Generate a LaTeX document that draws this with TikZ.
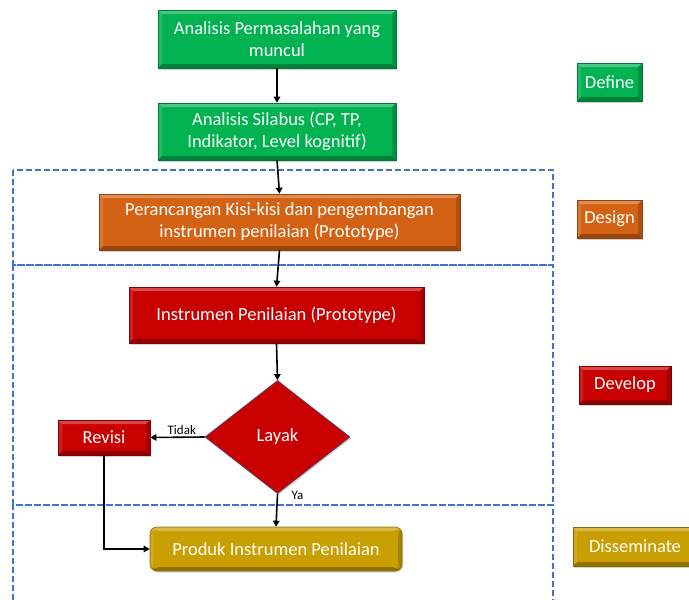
\documentclass[tikz,border=0pt]{standalone}
\usepackage{fontspec}
\setmainfont{Carlito}
\usetikzlibrary{arrows.meta,shapes.geometric,shadows,calc}
\definecolor{cgreen}{RGB}{0,178,80}
\definecolor{cgreenD}{RGB}{0,120,55}
\definecolor{corange}{RGB}{212,98,20}
\definecolor{corangeD}{RGB}{150,65,10}
\definecolor{cred}{RGB}{200,0,0}
\definecolor{credD}{RGB}{130,0,0}
\definecolor{cgold}{RGB}{201,158,0}
\definecolor{cgoldD}{RGB}{140,105,0}
\definecolor{cblue}{RGB}{68,114,196}
\tikzset{
  bevel/.style={path picture={
    \coordinate (nw) at (path picture bounding box.north west);
    \coordinate (se) at (path picture bounding box.south east);
    \coordinate (ne) at (path picture bounding box.north east);
    \coordinate (sw) at (path picture bounding box.south west);
    \fill[white,opacity=0.28] (nw) -- (ne) -- ($(ne)+(-4,4)$) -- ($(nw)+(4,4)$) -- cycle;
    \fill[white,opacity=0.12] (nw) -- ($(nw)+(4,4)$) -- ($(sw)+(4,-4)$) -- (sw) -- cycle;
    \fill[black,opacity=0.28] (sw) -- (se) -- ($(se)+(-4,-4)$) -- ($(sw)+(4,-4)$) -- cycle;
    \fill[black,opacity=0.18] (ne) -- ($(ne)+(-4,4)$) -- ($(se)+(-4,-4)$) -- (se) -- cycle;
  }},
  boxbase/.style={rectangle, text=white, font=\fontsize{18.5}{22}\selectfont, align=center, inner sep=2pt, line width=0.6pt, bevel,
    drop shadow={shadow xshift=1.2pt, shadow yshift=-1.5pt, opacity=0.35}},
  gbox/.style={boxbase, fill=cgreen, draw=cgreenD},
  obox/.style={boxbase, fill=corange, draw=corangeD},
  rbox/.style={boxbase, fill=cred, draw=credD},
  ybox/.style={boxbase, fill=cgold, draw=cgoldD},
  conn/.style={line width=1.6pt, -{Triangle[length=6pt,width=6.5pt]}},
  phase/.style={cblue, line width=1.3pt, dash pattern=on 6pt off 3pt},
  small/.style={font=\fontsize{13}{15}\selectfont, text=black, inner sep=1pt}
}
\begin{document}
\begin{tikzpicture}[x=1pt,y=-1pt]
\useasboundingbox (0,0) rectangle (689,600);
% phase frames
\draw[phase] (13,170) rectangle (553,265);
\draw[phase] (13,265) rectangle (553,505);
\draw[phase] (13,600) -- (13,505) -- (553,505) -- (553,600);
% main boxes
\node[gbox, minimum width=238pt, minimum height=58pt] (a1) at (277,39) {Analisis Permasalahan yang\\muncul};
\node[gbox, minimum width=238pt, minimum height=57pt] (a2) at (277,131.5) {Analisis Silabus (CP, TP,\\Indikator, Level kognitif)};
\node[obox, minimum width=361pt, minimum height=56pt] (a3) at (279.5,222) {Perancangan Kisi-kisi dan pengembangan\\instrumen penilaian (Prototype)};
\node[rbox, minimum width=295pt, minimum height=56pt] (a4) at (276.5,315) {Instrumen Penilaian (Prototype)};
\node[diamond, fill=cred, draw=cblue!50!credD, line width=0.8pt, text=white, font=\fontsize{18.5}{22}\selectfont,
  minimum width=145pt, minimum height=113pt, inner sep=0pt,
  drop shadow={shadow xshift=1.2pt, shadow yshift=-1.5pt, opacity=0.35}] (d) at (277.5,437) {Layak};
\node[rbox, minimum width=92pt, minimum height=35pt] (rev) at (104,437.5) {Revisi};
\node[ybox, rounded corners=7pt, minimum width=252pt, minimum height=44pt] (a5) at (276,549) {Produk Instrumen Penilaian};
% phase labels
\node[gbox, minimum width=65pt, minimum height=38pt] (p1) at (609.5,82) {Define};
\node[obox, minimum width=65pt, minimum height=38pt] (p2) at (609.5,219) {Design};
\node[rbox, minimum width=92pt, minimum height=38pt] (p3) at (625,385) {Develop};
\node[ybox, minimum width=124pt, minimum height=39pt] (p4) at (635,546.5) {Disseminate};
% connectors
\draw[conn] (a1.south) -- (a2.north);
\draw[conn] (a2.south) -- (a3.north);
\draw[conn] (a3.south) -- (a4.north);
\draw[conn] (a4.south) -- (d.north);
\draw[conn] (d.west) -- (rev.east) node[small, pos=0.42, above=1pt] (tl) {Tidak};
\draw[conn] (d.south) -- (a5.north);
\node[small, anchor=west] (yl) at ($(d.south)+(13,1)$) {Ya};
\draw[conn] (rev.south) |- (a5.west);
\end{tikzpicture}
\end{document}
